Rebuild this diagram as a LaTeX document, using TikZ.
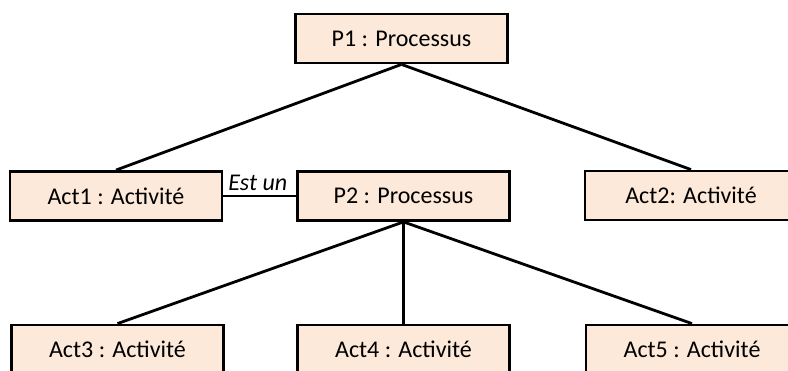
\documentclass[tikz,border=0pt]{standalone}
\usepackage{fontspec}
\setmainfont{Carlito}
\definecolor{peach}{HTML}{FDE9D9}
\newcommand{\boxFont}[0]{\fontsize{24}{28}\selectfont}

\begin{document}
\begin{tikzpicture}[x=1pt, y=-1pt]
  \tikzset{objbox/.style={draw, line width=2.8pt, fill=peach, minimum width=212pt,
      minimum height=49pt, inner sep=0pt, font=\boxFont},
    link/.style={line width=2.8pt}}
  \useasboundingbox (0,0) rectangle (788,371);
  \node[objbox] (p1) at (401.5,38.5) {P1 : Processus};
  \node[objbox] (act1) at (116,196) {Act1 : Activité};
  \node[objbox] (p2) at (403.5,196) {P2 : Processus};
  \node[objbox] (act2) at (691,195.5) {Act2: Activité};
  \node[objbox] (act3) at (117.5,349.5) {Act3 : Activité};
  \node[objbox] (act4) at (403.5,349.5) {Act4 : Activité};
  \node[objbox] (act5) at (692,349.5) {Act5 : Activité};
  \draw[link] (p1.south) -- (act1.north);
  \draw[link] (p1.south) -- (act2.north);
  \draw[link] (act1.east) -- node[above, font=\boxFont\itshape, inner sep=4pt, xshift=-2pt] (isa) {Est un} (p2.west);
  \draw[link] (p2.south) -- (act3.north);
  \draw[link] (p2.south) -- (act4.north);
  \draw[link] (p2.south) -- (act5.north);
\end{tikzpicture}
\end{document}
